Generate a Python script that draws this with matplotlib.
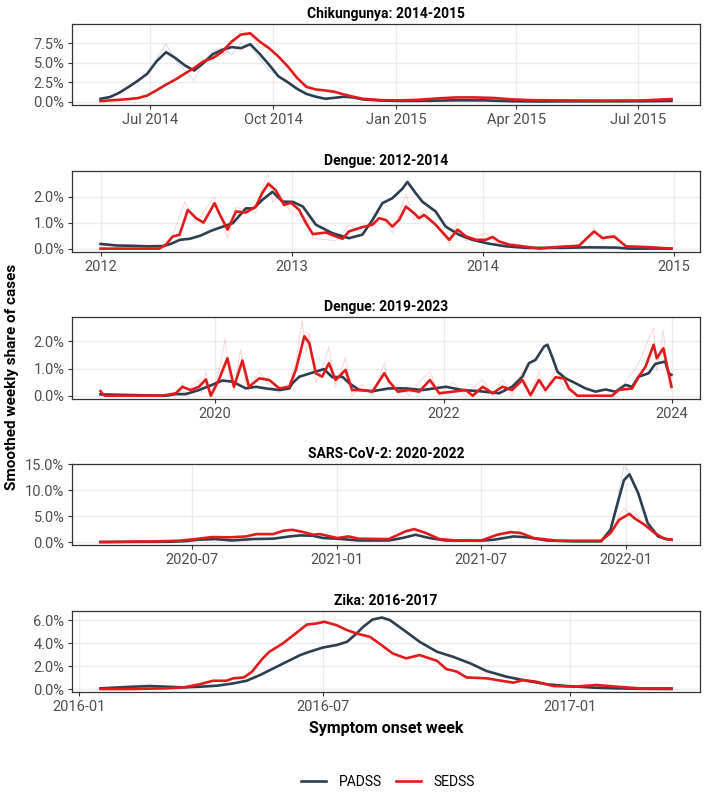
import pandas as pd
import matplotlib.pyplot as plt
import matplotlib.dates as mdates
from matplotlib.ticker import FuncFormatter
from matplotlib.lines import Line2D

plt.rcParams['font.family'] = ['Roboto', 'DejaVu Sans']

PADSS_COLOR = '#2c3e50'
SEDSS_COLOR = '#e31a1c'

# ---- Chikungunya 2014-2015 ----
chik_padss_dates = ['2014-05-25', '2014-06-01', '2014-06-08', '2014-06-15', '2014-06-22', '2014-06-29',
                    '2014-07-06', '2014-07-13', '2014-07-20', '2014-07-27', '2014-08-03', '2014-08-10',
                    '2014-08-17', '2014-08-24', '2014-08-31', '2014-09-07', '2014-09-14', '2014-09-21',
                    '2014-09-28', '2014-10-05', '2014-10-12', '2014-10-19', '2014-10-26', '2014-11-02',
                    '2014-11-09', '2014-11-16', '2014-11-23', '2014-11-30', '2014-12-07', '2014-12-21',
                    '2015-01-04', '2015-01-25', '2015-02-15', '2015-03-08', '2015-03-29', '2015-04-19',
                    '2015-05-10', '2015-06-07', '2015-07-05', '2015-07-26']
chik_padss = [0.38, 0.6, 1.15, 1.9, 2.7, 3.6,
              5.2, 6.35, 5.6, 4.66, 4.0, 4.96,
              6.1, 6.65, 7.0, 6.86, 7.37, 6.14,
              4.75, 3.26, 2.5, 1.65, 1.0, 0.64,
              0.38, 0.5, 0.64, 0.55, 0.3, 0.15,
              0.1, 0.12, 0.18, 0.17, 0.06, 0.03,
              0.05, 0.05, 0.06, 0.1]
chik_sedss_dates = ['2014-05-25', '2014-06-01', '2014-06-08', '2014-06-15', '2014-06-22', '2014-06-29',
                    '2014-07-06', '2014-07-13', '2014-07-20', '2014-07-27', '2014-08-03', '2014-08-10',
                    '2014-08-17', '2014-08-24', '2014-08-31', '2014-09-07', '2014-09-14', '2014-09-21',
                    '2014-09-28', '2014-10-05', '2014-10-12', '2014-10-19', '2014-10-26', '2014-11-02',
                    '2014-11-09', '2014-11-16', '2014-11-23', '2014-11-30', '2014-12-07', '2014-12-21',
                    '2015-01-04', '2015-01-18', '2015-02-01', '2015-02-15', '2015-03-01', '2015-03-15',
                    '2015-03-29', '2015-04-12', '2015-05-03', '2015-06-07', '2015-07-05', '2015-07-26']
chik_sedss = [0.08, 0.17, 0.25, 0.34, 0.47, 0.8,
              1.48, 2.2, 2.84, 3.6, 4.32, 5.17,
              5.6, 6.4, 7.7, 8.6, 8.77, 7.71,
              6.86, 5.8, 4.53, 3.05, 1.9, 1.57,
              1.44, 1.27, 0.93, 0.64, 0.38, 0.2,
              0.17, 0.25, 0.42, 0.55, 0.55, 0.48,
              0.3, 0.2, 0.17, 0.15, 0.17, 0.34]
chik_padss_raw_dates = ['2014-07-06', '2014-07-13', '2014-07-20', '2014-07-27', '2014-08-03', '2014-08-10',
                        '2014-08-17', '2014-08-24', '2014-08-31', '2014-09-07', '2014-09-14', '2014-09-21',
                        '2014-09-28', '2014-10-05']
chik_padss_raw = [5.6, 7.4, 5.3, 4.0, 2.7, 5.2, 6.5, 6.9, 6.0, 7.5, 7.1, 5.5, 4.0, 3.4]
chik_sedss_raw_dates = ['2014-08-17', '2014-08-24', '2014-08-31', '2014-09-07', '2014-09-14', '2014-09-21',
                        '2014-09-28', '2014-10-05', '2014-10-12']
chik_sedss_raw = [5.6, 5.9, 7.0, 9.2, 8.5, 7.0, 7.0, 5.7, 4.5]

# ---- Dengue 2012-2014 ----
den12_padss_dates = ['2012-01-01', '2012-02-01', '2012-03-01', '2012-04-01', '2012-05-01', '2012-05-15',
                     '2012-06-01', '2012-06-20', '2012-07-10', '2012-08-01', '2012-09-10', '2012-10-05',
                     '2012-10-20', '2012-11-05', '2012-11-25', '2012-12-14', '2013-01-03', '2013-01-22',
                     '2013-02-16', '2013-03-19', '2013-04-20', '2013-05-16', '2013-06-04', '2013-06-23',
                     '2013-07-12', '2013-07-31', '2013-08-10', '2013-08-26', '2013-09-08', '2013-10-03',
                     '2013-10-22', '2013-11-17', '2013-12-12', '2014-01-13', '2014-02-14', '2014-03-24',
                     '2014-06-01', '2014-07-23', '2014-09-13', '2014-10-08', '2014-12-28']
den12_padss = [0.18, 0.12, 0.11, 0.09, 0.1, 0.19,
               0.34, 0.38, 0.5, 0.7, 0.98, 1.55,
               1.55, 1.87, 2.19, 1.81, 1.8, 1.62,
               0.92, 0.6, 0.4, 0.54, 1.1, 1.75,
               1.94, 2.3, 2.57, 2.13, 1.8, 1.43,
               0.85, 0.53, 0.34, 0.19, 0.09, 0.03,
               0.03, 0.05, 0.04, 0.0, 0.0]
den12_sedss_dates = ['2012-01-01', '2012-04-22', '2012-05-05', '2012-05-18', '2012-05-31', '2012-06-16',
                     '2012-07-02', '2012-07-16', '2012-08-06', '2012-08-15', '2012-08-31', '2012-09-16',
                     '2012-10-05', '2012-10-24', '2012-11-05', '2012-11-17', '2012-12-01', '2012-12-17',
                     '2012-12-30', '2013-01-15', '2013-01-28', '2013-02-10', '2013-03-07', '2013-03-26',
                     '2013-04-08', '2013-04-20', '2013-05-16', '2013-06-04', '2013-06-17', '2013-06-30',
                     '2013-07-12', '2013-07-25', '2013-08-07', '2013-08-23', '2013-09-01', '2013-09-11',
                     '2013-10-03', '2013-10-29', '2013-11-14', '2013-11-30', '2013-12-19', '2014-01-07',
                     '2014-01-20', '2014-02-01', '2014-02-21', '2014-03-18', '2014-04-19', '2014-05-21',
                     '2014-07-04', '2014-08-02', '2014-08-18', '2014-09-09', '2014-10-02', '2014-11-22',
                     '2014-12-28']
den12_sedss = [0.0, 0.0, 0.15, 0.47, 0.53, 1.49,
               1.17, 1.0, 1.75, 1.36, 0.73, 1.43,
               1.39, 1.62, 2.13, 2.5, 2.25, 1.68,
               1.77, 1.49, 0.98, 0.56, 0.62, 0.47,
               0.38, 0.66, 0.83, 0.92, 1.17, 1.1,
               0.85, 1.1, 1.62, 1.36, 1.17, 1.3,
               0.92, 0.34, 0.73, 0.47, 0.34, 0.34,
               0.45, 0.28, 0.15, 0.09, 0.0, 0.06,
               0.11, 0.66, 0.41, 0.47, 0.09, 0.05,
               0.0]
den12_sedss_raw_dates = ['2012-05-18', '2012-06-10', '2012-07-02', '2012-08-06', '2012-08-31', '2012-09-16',
                         '2012-10-24', '2012-11-10', '2012-11-17', '2012-11-25', '2012-12-10', '2012-12-30',
                         '2013-01-28', '2013-02-10', '2013-03-26', '2013-04-20', '2013-05-16', '2013-06-17',
                         '2013-07-12', '2013-08-07', '2013-08-23', '2013-09-11', '2013-10-29', '2013-11-14',
                         '2013-11-30', '2014-01-07', '2014-02-01', '2014-03-01', '2014-04-15', '2014-06-01',
                         '2014-07-10', '2014-08-02', '2014-08-18', '2014-09-09', '2014-10-02']
den12_sedss_raw = [0.5, 1.8, 1.0, 2.0, 0.4, 1.6,
                   1.4, 2.6, 2.85, 1.8, 2.1, 1.4,
                   1.2, 0.4, 0.3, 0.9, 0.6, 1.4,
                   0.6, 2.1, 1.1, 1.5, 0.2, 1.0,
                   0.3, 0.6, 0.1, 0.2, 0.0, 0.1,
                   0.15, 0.8, 0.3, 0.6, 0.05]

# ---- Dengue 2019-2023 ----
den19_padss_dates = ['2018-12-30', '2019-07-27', '2019-08-28', '2019-09-28', '2019-11-10', '2019-12-22',
                     '2020-01-23', '2020-02-25', '2020-04-08', '2020-05-10', '2020-06-11', '2020-07-24',
                     '2020-08-25', '2020-09-04', '2020-09-26', '2020-11-18', '2020-12-14', '2021-01-10',
                     '2021-02-11', '2021-03-05', '2021-04-06', '2021-05-18', '2021-07-11', '2021-09-03',
                     '2021-10-25', '2022-01-08', '2022-03-02', '2022-04-24', '2022-06-27', '2022-08-08',
                     '2022-09-10', '2022-10-01', '2022-10-22', '2022-11-18', '2022-11-29', '2022-12-14',
                     '2022-12-31', '2023-01-26', '2023-02-27', '2023-03-31', '2023-05-02', '2023-06-03',
                     '2023-07-05', '2023-08-06', '2023-08-27', '2023-09-17', '2023-10-19', '2023-11-09',
                     '2023-12-11', '2023-12-22', '2023-12-31']
den19_padss = [0.05, 0.0, 0.06, 0.06, 0.21, 0.4,
               0.56, 0.52, 0.27, 0.33, 0.27, 0.21,
               0.27, 0.46, 0.7, 0.89, 0.98, 0.68,
               0.7, 0.46, 0.21, 0.17, 0.27, 0.27,
               0.21, 0.33, 0.21, 0.17, 0.09, 0.33,
               0.7, 1.2, 1.32, 1.81, 1.88, 1.44,
               0.89, 0.64, 0.46, 0.27, 0.15, 0.23,
               0.15, 0.4, 0.33, 0.7, 0.83, 1.17,
               1.26, 0.83, 0.77]
den19_sedss_dates = ['2018-12-30', '2019-01-06', '2019-01-13', '2019-07-16', '2019-08-28', '2019-09-18',
                     '2019-10-14', '2019-11-10', '2019-12-02', '2019-12-18', '2020-01-13', '2020-02-09',
                     '2020-03-01', '2020-03-28', '2020-04-18', '2020-05-21', '2020-06-22', '2020-07-24',
                     '2020-08-25', '2020-09-15', '2020-10-12', '2020-10-28', '2020-11-18', '2020-12-08',
                     '2020-12-30', '2021-01-20', '2021-02-21', '2021-03-14', '2021-04-16', '2021-05-18',
                     '2021-06-25', '2021-07-11', '2021-08-07', '2021-09-13', '2021-10-15', '2021-11-18',
                     '2021-12-18', '2022-01-30', '2022-03-13', '2022-04-04', '2022-05-06', '2022-06-07',
                     '2022-07-08', '2022-08-08', '2022-09-10', '2022-10-06', '2022-11-02', '2022-11-23',
                     '2022-12-25', '2023-01-21', '2023-02-06', '2023-03-05', '2023-06-24', '2023-07-15',
                     '2023-08-27', '2023-09-17', '2023-10-09', '2023-11-04', '2023-11-14', '2023-12-05',
                     '2023-12-22', '2023-12-31']
den19_sedss = [0.17, 0.06, 0.0, 0.0, 0.09, 0.33,
               0.21, 0.33, 0.6, 0.0, 0.6, 1.38,
               0.33, 1.3, 0.33, 0.64, 0.58, 0.27,
               0.33, 0.95, 2.19, 1.94, 0.83, 0.7,
               1.2, 0.58, 0.95, 0.21, 0.21, 0.15,
               0.83, 0.52, 0.15, 0.21, 0.15, 0.58,
               0.09, 0.15, 0.21, 0.0, 0.33, 0.09,
               0.33, 0.21, 0.58, 0.02, 0.58, 0.21,
               0.68, 0.64, 0.27, 0.0, 0.0, 0.21,
               0.27, 0.7, 1.07, 1.88, 1.38, 1.75,
               0.83, 0.33]
den19_sedss_raw_dates = ['2019-09-10', '2019-09-18', '2019-09-25', '2019-11-10', '2019-11-17', '2019-12-02',
                         '2019-12-18', '2020-01-13', '2020-02-02', '2020-02-16', '2020-03-01', '2020-03-22',
                         '2020-04-05', '2020-04-18', '2020-05-21', '2020-06-22', '2020-07-24', '2020-08-25',
                         '2020-09-15', '2020-10-05', '2020-10-18', '2020-10-28', '2020-11-18', '2020-12-08',
                         '2020-12-30', '2021-01-20', '2021-02-21', '2021-03-14', '2021-04-16', '2021-05-18',
                         '2021-06-25', '2021-07-11', '2021-08-07', '2021-09-13', '2021-10-15', '2021-11-18',
                         '2021-12-18', '2022-01-30', '2022-03-13', '2022-04-04', '2022-05-06', '2022-06-07',
                         '2022-07-08', '2022-08-08', '2022-09-10', '2022-10-06', '2022-11-02', '2022-11-23',
                         '2022-12-25', '2023-01-21', '2023-03-05', '2023-04-20', '2023-06-24', '2023-08-06',
                         '2023-09-17', '2023-10-20', '2023-11-04', '2023-11-14', '2023-12-05', '2023-12-22',
                         '2023-12-31']
den19_sedss_raw = [0.0, 0.5, 0.1, 0.6, 0.1, 0.9,
                   0.0, 0.9, 2.1, 0.6, 0.2, 1.7,
                   0.6, 0.2, 0.9, 0.4, 0.1, 0.5,
                   1.2, 2.75, 1.6, 2.3, 0.5, 1.0,
                   1.8, 0.3, 1.4, 0.0, 0.4, 0.0,
                   1.2, 0.2, 0.4, 0.0, 0.5, 0.9,
                   0.0, 0.5, 0.0, 0.3, 0.6, 0.0,
                   0.6, 0.0, 0.9, 0.0, 0.9, 0.1,
                   1.0, 0.3, 0.0, 0.0, 0.0, 0.5,
                   1.2, 2.1, 2.5, 0.9, 2.4, 0.4,
                   0.2]

# ---- SARS-CoV-2 2020-2022 ----
sars_padss_dates = ['2020-03-08', '2020-05-31', '2020-06-21', '2020-07-10', '2020-07-31', '2020-08-21',
                    '2020-09-16', '2020-10-12', '2020-11-02', '2020-11-15', '2020-12-01', '2020-12-14',
                    '2021-01-01', '2021-01-28', '2021-03-07', '2021-03-25', '2021-04-10', '2021-04-27',
                    '2021-05-18', '2021-07-01', '2021-07-18', '2021-08-12', '2021-08-29', '2021-09-23',
                    '2021-10-27', '2021-11-30', '2021-12-12', '2021-12-21', '2021-12-29', '2022-01-05',
                    '2022-01-16', '2022-01-28', '2022-02-10', '2022-02-20', '2022-02-27']
sars_padss = [0.0, 0.05, 0.15, 0.45, 0.57, 0.3,
              0.57, 0.64, 1.08, 1.28, 1.2, 0.77,
              0.64, 0.3, 0.3, 0.8, 1.4, 0.77,
              0.3, 0.25, 0.45, 1.08, 0.9, 0.3,
              0.13, 0.13, 2.36, 7.47, 11.9, 13.0,
              9.4, 3.64, 1.08, 0.57, 0.45]
sars_sedss_dates = ['2020-03-08', '2020-05-18', '2020-06-15', '2020-07-06', '2020-07-27', '2020-08-18',
                    '2020-09-08', '2020-09-21', '2020-10-12', '2020-10-25', '2020-11-05', '2020-11-19',
                    '2020-12-02', '2020-12-10', '2021-01-01', '2021-01-15', '2021-01-28', '2021-03-07',
                    '2021-03-28', '2021-04-08', '2021-04-23', '2021-05-10', '2021-05-31', '2021-07-01',
                    '2021-07-22', '2021-08-08', '2021-08-21', '2021-09-06', '2021-10-06', '2021-11-30',
                    '2021-12-12', '2021-12-23', '2022-01-05', '2022-01-11', '2022-01-24', '2022-02-06',
                    '2022-02-18', '2022-02-27']
sars_sedss = [0.0, 0.13, 0.25, 0.57, 0.96, 0.9,
              1.08, 1.53, 1.53, 2.17, 2.36, 1.91,
              1.4, 1.53, 0.77, 1.08, 0.64, 0.57,
              2.04, 2.49, 1.72, 0.57, 0.3, 0.25,
              1.4, 1.91, 1.72, 0.77, 0.25, 0.25,
              1.72, 4.28, 5.42, 4.6, 3.32, 1.72,
              0.64, 0.45]
sars_padss_raw_dates = ['2021-12-12', '2021-12-21', '2021-12-29', '2022-01-05', '2022-01-16', '2022-01-28']
sars_padss_raw = [2.4, 8.5, 14.5, 13.5, 9.0, 3.6]
sars_sedss_raw_dates = ['2021-12-12', '2021-12-23', '2021-12-29', '2022-01-05', '2022-01-11', '2022-01-24']
sars_sedss_raw = [1.7, 5.0, 6.5, 5.4, 5.9, 3.2]

# ---- Zika 2016-2017 ----
zika_padss_dates = ['2016-01-17', '2016-02-10', '2016-02-23', '2016-03-19', '2016-03-31', '2016-04-13',
                    '2016-04-25', '2016-05-05', '2016-05-15', '2016-05-25', '2016-06-04', '2016-06-14',
                    '2016-06-21', '2016-07-01', '2016-07-11', '2016-07-19', '2016-07-26', '2016-07-31',
                    '2016-08-07', '2016-08-14', '2016-08-20', '2016-09-01', '2016-09-11', '2016-09-24',
                    '2016-10-06', '2016-10-19', '2016-10-31', '2016-11-15', '2016-11-30', '2016-12-15',
                    '2016-12-30', '2017-01-19', '2017-02-05', '2017-02-22', '2017-03-18']
zika_padss = [0.06, 0.2, 0.26, 0.14, 0.2, 0.29,
              0.49, 0.72, 1.22, 1.8, 2.38, 2.96,
              3.25, 3.62, 3.83, 4.12, 4.84, 5.42,
              6.06, 6.23, 6.0, 4.99, 4.12, 3.25,
              2.81, 2.23, 1.57, 1.07, 0.72, 0.41,
              0.26, 0.12, 0.06, 0.02, 0.0]
zika_sedss_dates = ['2016-01-17', '2016-02-10', '2016-03-06', '2016-03-19', '2016-03-31', '2016-04-10',
                    '2016-04-20', '2016-04-25', '2016-05-03', '2016-05-09', '2016-05-17', '2016-05-22',
                    '2016-06-01', '2016-06-09', '2016-06-19', '2016-06-26', '2016-07-02', '2016-07-11',
                    '2016-07-19', '2016-07-26', '2016-08-05', '2016-08-12', '2016-08-22', '2016-09-01',
                    '2016-09-11', '2016-09-24', '2016-10-01', '2016-10-09', '2016-10-16', '2016-10-31',
                    '2016-11-20', '2016-11-27', '2016-12-07', '2016-12-20', '2017-01-04', '2017-01-21',
                    '2017-02-05', '2017-02-22', '2017-03-18']
zika_sedss = [0.0, 0.0, 0.06, 0.14, 0.41, 0.72,
              0.72, 0.93, 1.01, 1.51, 2.67, 3.25,
              3.97, 4.7, 5.62, 5.71, 5.86, 5.57,
              5.13, 4.84, 4.55, 3.97, 3.1, 2.67,
              2.96, 2.46, 1.74, 1.51, 1.01, 0.93,
              0.55, 0.78, 0.64, 0.26, 0.2, 0.35,
              0.2, 0.06, 0.06]

titles = ['Chikungunya: 2014-2015', 'Dengue: 2012-2014', 'Dengue: 2019-2023',
          'SARS-CoV-2: 2020-2022', 'Zika: 2016-2017']

panels = [
    dict(padss=(chik_padss_dates, chik_padss), sedss=(chik_sedss_dates, chik_sedss),
         raw=[(chik_padss_raw_dates, chik_padss_raw, PADSS_COLOR), (chik_sedss_raw_dates, chik_sedss_raw, SEDSS_COLOR)],
         ylim=(-0.42, 9.96), yticks=[0, 2.5, 5, 7.5],
         locator=mdates.MonthLocator(bymonth=[1, 4, 7, 10]), fmt='%b %Y'),
    dict(padss=(den12_padss_dates, den12_padss), sedss=(den12_sedss_dates, den12_sedss),
         raw=[(den12_sedss_raw_dates, den12_sedss_raw, SEDSS_COLOR)],
         ylim=(-0.13, 2.99), yticks=[0, 1, 2],
         locator=mdates.YearLocator(1), fmt='%Y'),
    dict(padss=(den19_padss_dates, den19_padss), sedss=(den19_sedss_dates, den19_sedss),
         raw=[(den19_sedss_raw_dates, den19_sedss_raw, SEDSS_COLOR)],
         ylim=(-0.12, 2.9), yticks=[0, 1, 2],
         locator=mdates.YearLocator(2), fmt='%Y'),
    dict(padss=(sars_padss_dates, sars_padss), sedss=(sars_sedss_dates, sars_sedss),
         raw=[(sars_padss_raw_dates, sars_padss_raw, PADSS_COLOR), (sars_sedss_raw_dates, sars_sedss_raw, SEDSS_COLOR)],
         ylim=(-0.57, 15.0), yticks=[0, 5, 10, 15],
         locator=mdates.MonthLocator(bymonth=[1, 7]), fmt='%Y-%m'),
    dict(padss=(zika_padss_dates, zika_padss), sedss=(zika_sedss_dates, zika_sedss),
         raw=[],
         ylim=(-0.26, 6.8), yticks=[0, 2, 4, 6],
         locator=mdates.MonthLocator(bymonth=[1, 7]), fmt='%Y-%m'),
]

# panel top / bottom in pixels (figure is 704 x 792)
panel_px = [(24, 105), (171, 252), (317, 399), (464, 545), (611, 692)]

fig = plt.figure(figsize=(7.04, 7.92), dpi=100)

for title, p, (top, bot) in zip(titles, panels, panel_px):
    ax = fig.add_axes([72 / 704, 1 - bot / 792, 628 / 704, (bot - top) / 792])
    for rd, rv, c in p['raw']:
        ax.plot(pd.to_datetime(rd), rv, color=c, lw=0.6, alpha=0.2, zorder=2)
    ax.plot(pd.to_datetime(p['padss'][0]), p['padss'][1], color=PADSS_COLOR, lw=1.9, zorder=3,
            solid_joinstyle='round')
    ax.plot(pd.to_datetime(p['sedss'][0]), p['sedss'][1], color=SEDSS_COLOR, lw=1.9, zorder=4,
            solid_joinstyle='round')
    ax.set_ylim(*p['ylim'])
    ax.set_yticks(p['yticks'])
    ax.yaxis.set_major_formatter(FuncFormatter(lambda v, pos: f'{v:.1f}%'))
    ax.xaxis.set_major_locator(p['locator'])
    ax.xaxis.set_major_formatter(mdates.DateFormatter(p['fmt']))
    ax.grid(True, color='#ebebeb', lw=1.0, zorder=0)
    ax.set_axisbelow(True)
    for s in ax.spines.values():
        s.set_color('#333333')
        s.set_linewidth(0.9)
    ax.tick_params(axis='both', length=3, width=0.8, color='#333333', labelcolor='#4d4d4d',
                   labelsize=10.5, pad=2.5)
    ax.set_title(title, fontsize=10, fontweight='bold', pad=4)

fig.text(386 / 704, 1 - 728 / 792, 'Symptom onset week', ha='center', va='center',
         fontsize=11.5, fontweight='bold')
fig.text(12 / 704, 1 - 377 / 792, 'Smoothed weekly share of cases', ha='center', va='center',
         rotation=90, fontsize=11, fontweight='bold')

handles = [Line2D([], [], color=PADSS_COLOR, lw=1.9), Line2D([], [], color=SEDSS_COLOR, lw=1.9)]
fig.legend(handles, ['PADSS', 'SEDSS'], loc='center', bbox_to_anchor=(388 / 704, 1 - 782 / 792), ncol=2,
           frameon=False, fontsize=10, handlelength=1.8, columnspacing=1.0, handletextpad=0.9)

fig.savefig('out.png', dpi=100)
